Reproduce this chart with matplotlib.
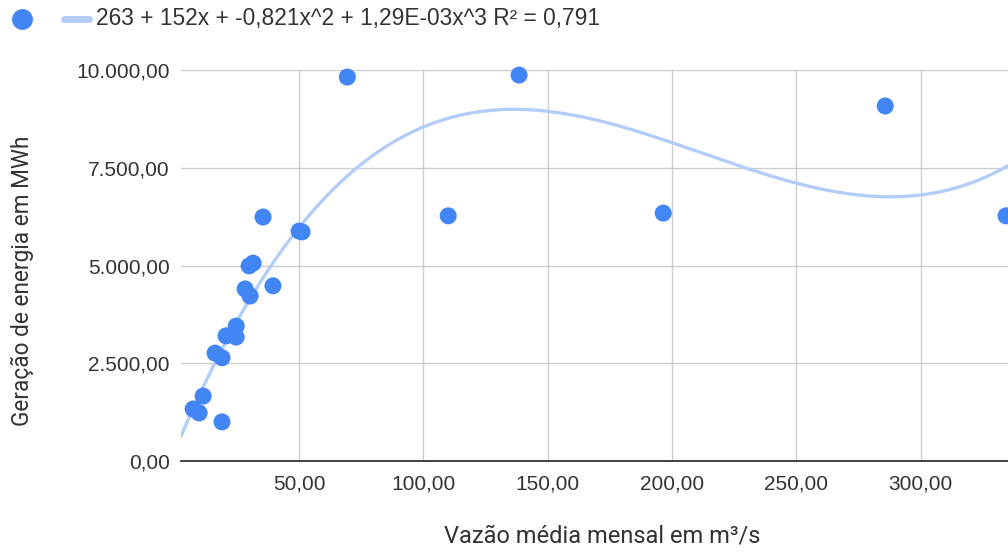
import numpy as np
import matplotlib
matplotlib.use("Agg")
import matplotlib.pyplot as plt
from matplotlib.lines import Line2D
from matplotlib.ticker import FuncFormatter

plt.rcParams["font.family"] = ["Liberation Sans", "DejaVu Sans"]

# vazão média mensal (m³/s) x geração (MWh)
vazao = [7.4, 9.8, 11.4, 19.0, 16.2, 19.0, 20.6, 24.7, 24.7, 28.3, 30.3, 29.9,
         31.5, 39.5, 35.5, 50.0, 51.2, 69.4, 110.0, 138.5, 196.5, 285.8, 334.4]
geracao = [1330, 1230, 1660, 1000, 2760, 2640, 3200, 3170, 3450, 4400, 4220, 4990,
           5060, 4480, 6240, 5880, 5860, 9820, 6270, 9870, 6340, 9080, 6270]
# coeficientes da linha de tendência (polinomial grau 3)
coef = [263, 152, -0.821, 1.29e-3]
x_ticks = [50, 100, 150, 200, 250, 300]
y_ticks = [0, 2500, 5000, 7500, 10000]
legenda = "263 + 152x + -0,821x^2 + 1,29E-03x^3 R² = 0,791"

azul = "#4285f4"
azul_claro = "#b3cdf8"

def br(v, pos=None):
    s = f"{v:,.2f}"
    return s.replace(",", "X").replace(".", ",").replace("X", ".")

W, H = 1008, 556
fig = plt.figure(figsize=(W / 100, H / 100), dpi=100)
ax = fig.add_axes([181 / W, 1 - 461 / H, 827 / W, 391 / H])

xmin, xmax = 2.5, 335.2
xs = np.linspace(xmin, xmax, 400)
ys = coef[0] + coef[1] * xs + coef[2] * xs**2 + coef[3] * xs**3
ax.plot(xs, ys, color=azul_claro, lw=2.4, zorder=2, solid_capstyle="round")
ax.scatter(vazao, geracao, s=150, color=azul, edgecolors="none", zorder=3, clip_on=False)

ax.set_xlim(xmin, xmax)
ax.set_ylim(0, 10000)
ax.set_xticks(x_ticks)
ax.set_yticks(y_ticks)
ax.xaxis.set_major_formatter(FuncFormatter(br))
ax.yaxis.set_major_formatter(FuncFormatter(br))
ax.grid(True, color="#cccccc", lw=1)
ax.set_axisbelow(True)
for s in ["top", "right", "left"]:
    ax.spines[s].set_visible(False)
ax.spines["bottom"].set_color("#333333")
ax.spines["bottom"].set_linewidth(1.3)
ax.tick_params(length=0, labelsize=15, labelcolor="#333333", pad=8)
ax.tick_params(axis="x", pad=10)

fig.text(0.597, 0.016, "Vazão média mensal em m³/s", ha="center", va="bottom",
         fontsize=17, color="#333333", family=["Roboto", "DejaVu Sans"])
fig.text(0.022, 0.495, "Geração de energia em MWh", ha="center", va="center",
         rotation=90, fontsize=16.3, color="#333333", family=["Roboto", "DejaVu Sans"])

# legenda desenhada à mão
ly = 1 - 19 / H
fig.add_artist(Line2D([22 / W], [ly], marker="o", ls="none", color=azul, markersize=14))
fig.add_artist(Line2D([64 / W, 89 / W], [ly, ly], color=azul_claro, lw=5, solid_capstyle="round"))
fig.text(96 / W, ly, legenda, ha="left", va="center", fontsize=16.4, color="#333333")

fig.savefig("out.png", dpi=100)
